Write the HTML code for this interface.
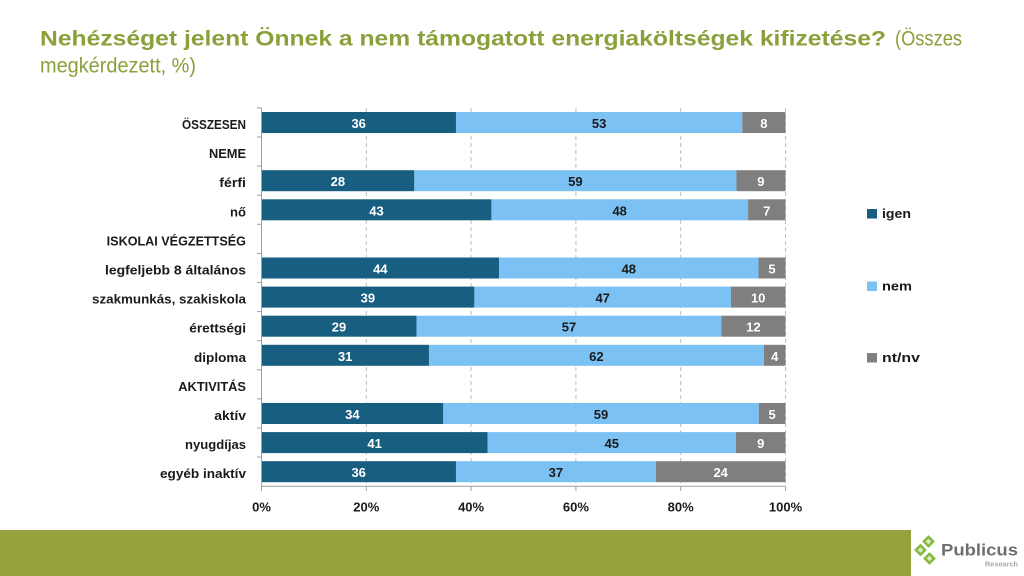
<!DOCTYPE html>
<html>
<head>
<meta charset="utf-8">
<style>
html,body{margin:0;padding:0;background:#fff;}
svg{display:block;}
text{font-family:"Liberation Sans",Arial,sans-serif;}
</style>
</head>
<body>
<svg width="1024" height="576" viewBox="0 0 1024 576" xmlns="http://www.w3.org/2000/svg">
<rect x="0" y="0" width="1024" height="576" fill="#ffffff"/>

<!-- Title -->
<text x="40" y="45.5" font-size="21" font-weight="bold" fill="#8aa03a" textLength="846" lengthAdjust="spacingAndGlyphs">Nehézséget jelent Önnek a nem támogatott energiaköltségek kifizetése?</text>
<text x="895" y="45.5" font-size="21" fill="#8aa03a" textLength="67" lengthAdjust="spacingAndGlyphs">(Összes</text>
<text x="40" y="72.5" font-size="21" fill="#8aa03a" textLength="156" lengthAdjust="spacingAndGlyphs">megkérdezett, %)</text>

<!-- Gridlines -->
<g stroke="#bdbdbd" stroke-width="1" stroke-dasharray="4,3">
<line x1="366.3" y1="108" x2="366.3" y2="486"/>
<line x1="471.1" y1="108" x2="471.1" y2="486"/>
<line x1="575.9" y1="108" x2="575.9" y2="486"/>
<line x1="680.7" y1="108" x2="680.7" y2="486"/>
<line x1="785.5" y1="108" x2="785.5" y2="486"/>
</g>

<!-- Bars -->
<g>
<rect x="261.5" y="112" width="194.47" height="21" fill="#175e80"/>
<rect x="455.97" y="112" width="286.31" height="21" fill="#7cc1f3"/>
<rect x="742.28" y="112" width="43.22" height="21" fill="#7f7f7f"/>

<rect x="261.5" y="170.2" width="152.83" height="21" fill="#175e80"/>
<rect x="414.33" y="170.2" width="322.04" height="21" fill="#7cc1f3"/>
<rect x="736.37" y="170.2" width="49.13" height="21" fill="#7f7f7f"/>

<rect x="261.5" y="199.3" width="229.92" height="21" fill="#175e80"/>
<rect x="491.42" y="199.3" width="256.65" height="21" fill="#7cc1f3"/>
<rect x="748.07" y="199.3" width="37.43" height="21" fill="#7f7f7f"/>

<rect x="261.5" y="257.5" width="237.69" height="21" fill="#175e80"/>
<rect x="499.19" y="257.5" width="259.30" height="21" fill="#7cc1f3"/>
<rect x="758.49" y="257.5" width="27.01" height="21" fill="#7f7f7f"/>

<rect x="261.5" y="286.6" width="212.88" height="21" fill="#175e80"/>
<rect x="474.38" y="286.6" width="256.54" height="21" fill="#7cc1f3"/>
<rect x="730.92" y="286.6" width="54.58" height="21" fill="#7f7f7f"/>

<rect x="261.5" y="315.7" width="155.06" height="21" fill="#175e80"/>
<rect x="416.56" y="315.7" width="304.78" height="21" fill="#7cc1f3"/>
<rect x="721.34" y="315.7" width="64.16" height="21" fill="#7f7f7f"/>

<rect x="261.5" y="344.8" width="167.46" height="21" fill="#175e80"/>
<rect x="428.96" y="344.8" width="334.93" height="21" fill="#7cc1f3"/>
<rect x="763.89" y="344.8" width="21.61" height="21" fill="#7f7f7f"/>

<rect x="261.5" y="403" width="181.80" height="21" fill="#175e80"/>
<rect x="443.30" y="403" width="315.47" height="21" fill="#7cc1f3"/>
<rect x="758.77" y="403" width="26.73" height="21" fill="#7f7f7f"/>

<rect x="261.5" y="432.1" width="226.15" height="21" fill="#175e80"/>
<rect x="487.65" y="432.1" width="248.21" height="21" fill="#7cc1f3"/>
<rect x="735.86" y="432.1" width="49.64" height="21" fill="#7f7f7f"/>

<rect x="261.5" y="461.2" width="194.47" height="21" fill="#175e80"/>
<rect x="455.97" y="461.2" width="199.88" height="21" fill="#7cc1f3"/>
<rect x="655.85" y="461.2" width="129.65" height="21" fill="#7f7f7f"/>
</g>

<!-- Bar value labels -->
<g font-size="13" font-weight="bold" text-anchor="middle">
<text x="358.7" y="128" fill="#ffffff">36</text>
<text x="599.1" y="128" fill="#1a1a1a">53</text>
<text x="763.9" y="128" fill="#ffffff">8</text>

<text x="337.9" y="186.2" fill="#ffffff">28</text>
<text x="575.4" y="186.2" fill="#1a1a1a">59</text>
<text x="760.9" y="186.2" fill="#ffffff">9</text>

<text x="376.5" y="215.3" fill="#ffffff">43</text>
<text x="619.7" y="215.3" fill="#1a1a1a">48</text>
<text x="766.8" y="215.3" fill="#ffffff">7</text>

<text x="380.3" y="273.5" fill="#ffffff">44</text>
<text x="628.8" y="273.5" fill="#1a1a1a">48</text>
<text x="772.0" y="273.5" fill="#ffffff">5</text>

<text x="367.9" y="302.6" fill="#ffffff">39</text>
<text x="602.7" y="302.6" fill="#1a1a1a">47</text>
<text x="758.2" y="302.6" fill="#ffffff">10</text>

<text x="339.0" y="331.7" fill="#ffffff">29</text>
<text x="569.0" y="331.7" fill="#1a1a1a">57</text>
<text x="753.4" y="331.7" fill="#ffffff">12</text>

<text x="345.2" y="360.8" fill="#ffffff">31</text>
<text x="596.4" y="360.8" fill="#1a1a1a">62</text>
<text x="774.7" y="360.8" fill="#ffffff">4</text>

<text x="352.4" y="419" fill="#ffffff">34</text>
<text x="601.0" y="419" fill="#1a1a1a">59</text>
<text x="772.1" y="419" fill="#ffffff">5</text>

<text x="374.6" y="448.1" fill="#ffffff">41</text>
<text x="611.8" y="448.1" fill="#1a1a1a">45</text>
<text x="760.7" y="448.1" fill="#ffffff">9</text>

<text x="358.7" y="477.2" fill="#ffffff">36</text>
<text x="555.9" y="477.2" fill="#1a1a1a">37</text>
<text x="720.7" y="477.2" fill="#ffffff">24</text>
</g>

<!-- Axes -->
<g stroke="#a0a0a0" stroke-width="1">
<line x1="261.5" y1="107.9" x2="261.5" y2="486.2"/>
<line x1="257" y1="107.9" x2="261.5" y2="107.9"/>
<line x1="257" y1="137" x2="261.5" y2="137"/>
<line x1="257" y1="166.1" x2="261.5" y2="166.1"/>
<line x1="257" y1="195.2" x2="261.5" y2="195.2"/>
<line x1="257" y1="224.3" x2="261.5" y2="224.3"/>
<line x1="257" y1="253.4" x2="261.5" y2="253.4"/>
<line x1="257" y1="282.5" x2="261.5" y2="282.5"/>
<line x1="257" y1="311.6" x2="261.5" y2="311.6"/>
<line x1="257" y1="340.7" x2="261.5" y2="340.7"/>
<line x1="257" y1="369.8" x2="261.5" y2="369.8"/>
<line x1="257" y1="398.9" x2="261.5" y2="398.9"/>
<line x1="257" y1="428" x2="261.5" y2="428"/>
<line x1="257" y1="457.1" x2="261.5" y2="457.1"/>
<line x1="261.5" y1="486.2" x2="785.5" y2="486.2"/>
<line x1="261.5" y1="486.2" x2="261.5" y2="491"/>
<line x1="366.3" y1="486.2" x2="366.3" y2="491"/>
<line x1="471.1" y1="486.2" x2="471.1" y2="491"/>
<line x1="575.9" y1="486.2" x2="575.9" y2="491"/>
<line x1="680.7" y1="486.2" x2="680.7" y2="491"/>
<line x1="785.5" y1="486.2" x2="785.5" y2="491"/>
</g>

<!-- X tick labels -->
<g font-size="13" font-weight="bold" fill="#1a1a1a" text-anchor="middle">
<text x="261.5" y="511.5">0%</text>
<text x="366.3" y="511.5">20%</text>
<text x="471.1" y="511.5">40%</text>
<text x="575.9" y="511.5">60%</text>
<text x="680.7" y="511.5">80%</text>
<text x="785.5" y="511.5">100%</text>
</g>

<!-- Category labels -->
<g font-size="12.5" font-weight="bold" fill="#1a1a1a">
<text x="182" y="129" textLength="64" lengthAdjust="spacingAndGlyphs">ÖSSZESEN</text>
<text x="209" y="158.1" textLength="37" lengthAdjust="spacingAndGlyphs">NEME</text>
<text x="219.3" y="187.2" textLength="26.7" lengthAdjust="spacingAndGlyphs">férfi</text>
<text x="230" y="216.3" textLength="16" lengthAdjust="spacingAndGlyphs">nő</text>
<text x="106.7" y="245.4" textLength="139.3" lengthAdjust="spacingAndGlyphs">ISKOLAI VÉGZETTSÉG</text>
<text x="105" y="274.5" textLength="141" lengthAdjust="spacingAndGlyphs">legfeljebb 8 általános</text>
<text x="92" y="303.6" textLength="154" lengthAdjust="spacingAndGlyphs">szakmunkás, szakiskola</text>
<text x="189.3" y="332.7" textLength="56.7" lengthAdjust="spacingAndGlyphs">érettségi</text>
<text x="194" y="361.8" textLength="52" lengthAdjust="spacingAndGlyphs">diploma</text>
<text x="178.3" y="390.9" textLength="67.7" lengthAdjust="spacingAndGlyphs">AKTIVITÁS</text>
<text x="214.3" y="420" textLength="31.7" lengthAdjust="spacingAndGlyphs">aktív</text>
<text x="185" y="449.1" textLength="61" lengthAdjust="spacingAndGlyphs">nyugdíjas</text>
<text x="160" y="478.2" textLength="86" lengthAdjust="spacingAndGlyphs">egyéb inaktív</text>
</g>

<!-- Legend -->
<rect x="867" y="209" width="10" height="9.5" fill="#175e80"/>
<rect x="867" y="281.5" width="10" height="9.5" fill="#7cc1f3"/>
<rect x="867" y="353" width="10" height="9.5" fill="#7f7f7f"/>
<g font-size="13" font-weight="bold" fill="#1a1a1a">
<text x="882" y="218" textLength="29" lengthAdjust="spacingAndGlyphs">igen</text>
<text x="882" y="290.5" textLength="30" lengthAdjust="spacingAndGlyphs">nem</text>
<text x="882" y="362" textLength="38" lengthAdjust="spacingAndGlyphs">nt/nv</text>
</g>

<!-- Footer -->
<rect x="0" y="530" width="911" height="46" fill="#97a23d"/>
<g fill="#86b83e">
<rect x="924" y="537" width="9" height="9" transform="rotate(45 928.5 541.5)"/>
<rect x="916" y="545.5" width="9" height="9" transform="rotate(45 920.5 550)"/>
<rect x="925" y="554" width="9" height="9" transform="rotate(45 929.5 558.5)"/>
</g>
<g fill="#d9ebc0">
<rect x="926.5" y="539.5" width="4" height="4" transform="rotate(45 928.5 541.5)"/>
<rect x="918.5" y="548" width="4" height="4" transform="rotate(45 920.5 550)"/>
<rect x="927.5" y="556.5" width="4" height="4" transform="rotate(45 929.5 558.5)"/>
</g>
<text x="941" y="555.5" font-size="17" font-weight="bold" fill="#6d6e71" textLength="77" lengthAdjust="spacingAndGlyphs">Publicus</text>
<text x="985" y="566.5" font-size="7" font-weight="bold" fill="#a7a9ac" textLength="33" lengthAdjust="spacingAndGlyphs">Research</text>
</svg>
</body>
</html>
